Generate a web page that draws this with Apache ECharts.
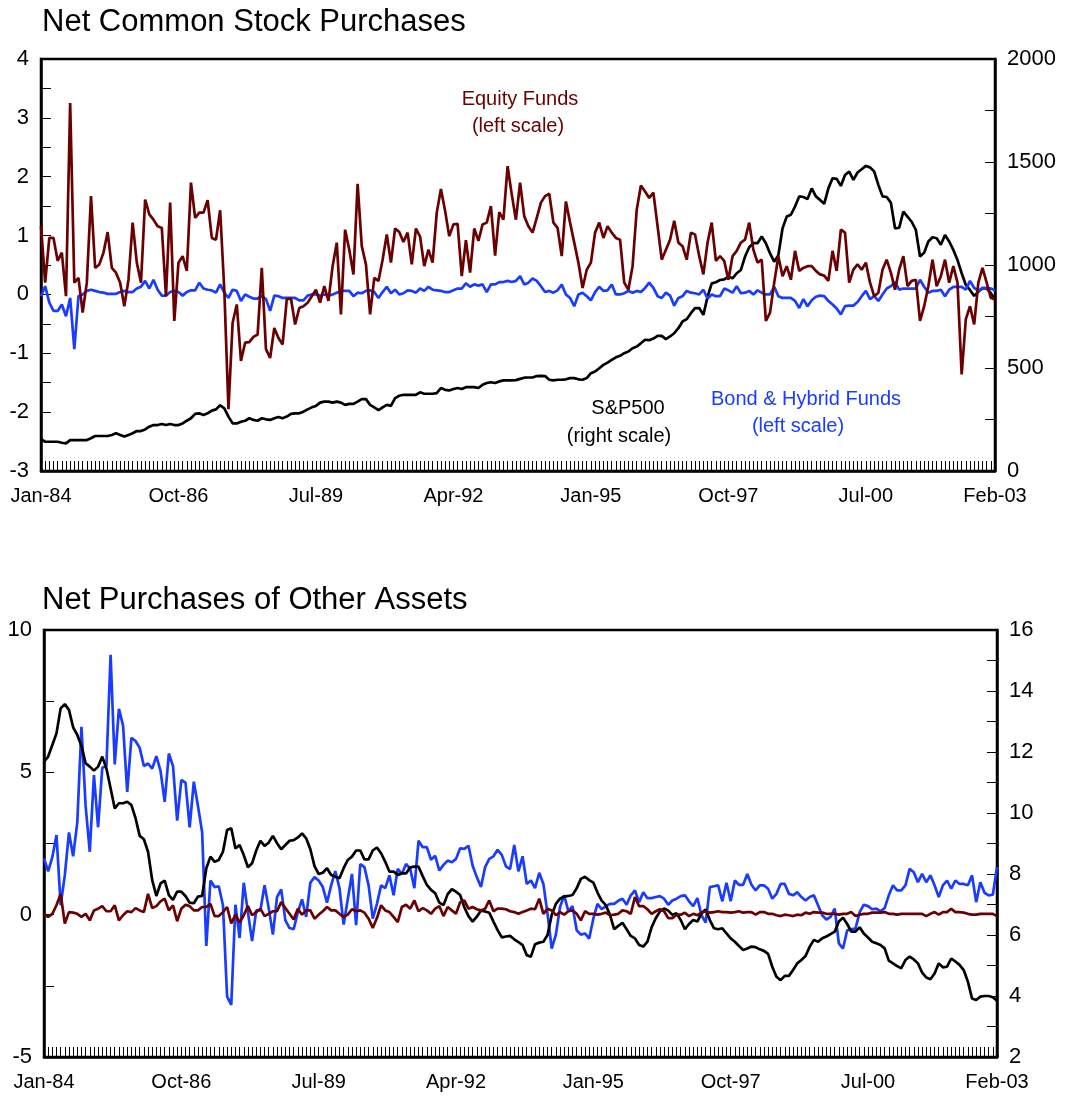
<!DOCTYPE html>
<html>
<head>
<meta charset="utf-8">
<title>Net Purchases</title>
<script src="https://cdn.jsdelivr.net/npm/echarts@6/dist/echarts.min.js"></script>
<style>
  html, body { margin: 0; padding: 0; background: #fff; }
  #chart { width: 1078px; height: 1099px; }
</style>
</head>
<body>
<div id="chart"></div>
<script>
// monthly, Jan-84 .. Feb-03
const startYear = 1984;
const monthCount = 230;
const monthNames = ['Jan', 'Feb', 'Mar', 'Apr', 'May', 'Jun', 'Jul', 'Aug', 'Sep', 'Oct', 'Nov', 'Dec'];

// top panel, left scale
const equityFunds = [
  1.16, 0.20, 0.96, 0.96, 0.57, 0.71, -0.03, 3.25, 0.20, 0.28,
  -0.31, 0.20, 1.67, 0.45, 0.51, 0.71, 1.06, 0.45, 0.37, 0.20,
  -0.20, 0.25, 1.22, 0.54, 0.20, 1.61, 1.36, 1.27, 1.16, 1.13,
  -0.03, 1.56, -0.45, 0.54, 0.65, 0.40, 1.90, 1.30, 1.39, 1.39,
  1.60, 0.96, 0.93, 1.43, 0.08, -1.95, -0.48, -0.17, -1.13, -0.82,
  -0.81, -0.72, -0.68, 0.45, -0.93, -1.08, -0.57, -0.74, -0.85, -0.08,
  -0.07, -0.51, -0.23, -0.20, -0.14, -0.03, 0.08, -0.14, 0.14, -0.11,
  0.48, 0.88, -0.34, 1.10, 0.76, 0.34, 1.88, 0.82, 0.51, -0.34,
  0.28, 0.23, 0.59, 1.02, 0.54, 1.12, 1.06, 0.89, 1.05, 0.51,
  1.12, 0.98, 0.48, 0.76, 0.54, 1.39, 1.79, 1.42, 0.99, 1.19,
  1.20, 0.31, 0.92, 0.37, 1.12, 0.91, 1.19, 1.22, 1.50, 0.66,
  1.40, 1.27, 2.18, 1.70, 1.27, 1.90, 1.33, 1.16, 1.05, 1.30,
  1.56, 1.67, 1.71, 1.22, 1.13, 0.65, 1.58, 1.22, 0.88, 0.54,
  0.11, 0.42, 0.54, 1.05, 1.22, 0.96, 1.16, 1.05, 0.96, 0.93,
  0.20, 0.08, 0.48, 1.44, 1.85, 1.75, 1.64, 1.73, 1.16, 0.59,
  0.76, 0.93, 1.25, 0.88, 0.82, 0.59, 1.05, 1.02, 0.65, 0.34,
  0.88, 1.22, 0.57, 0.65, 0.57, 0.25, 0.65, 0.74, 0.88, 0.93,
  1.22, 0.76, 0.54, 0.59, -0.45, -0.31, 0.20, 0.65, 0.31, 0.48,
  0.25, 0.74, 0.40, 0.45, 0.48, 0.48, 0.40, 0.34, 0.32, 0.23,
  0.74, 0.40, 1.10, 1.05, 0.20, 0.42, 0.51, 0.42, 0.54, 0.20,
  -0.03, 0.03, 0.42, 0.59, 0.37, 0.08, 0.42, 0.65, 0.14, 0.23,
  0.25, -0.45, -0.20, 0.14, 0.59, 0.14, 0.31, 0.59, 0.20, 0.48,
  0.20, -1.36, -0.42, -0.20, -0.51, 0.20, 0.45, 0.20, -0.06, -0.08
];

const bondHybridFunds = [
  -0.03, 0.14, -0.14, -0.28, -0.28, -0.17, -0.37, -0.06, -0.93, -0.03,
  0, 0.06, 0.08, 0.06, 0.04, 0.03, 0.01, 0.01, 0.01, 0.04,
  0.06, 0.04, 0.04, 0.10, 0.13, 0.23, 0.10, 0.25, 0.08, -0.02,
  -0.02, 0.04, 0.06, 0.04, -0.02, 0.04, 0.07, 0.07, 0.20, 0.10,
  0.08, 0.07, 0.03, 0.17, 0.03, -0.06, 0.08, 0.06, -0.11, 0,
  -0.04, -0.07, -0.07, -0.03, -0.08, -0.28, -0.02, -0.03, -0.06, -0.06,
  -0.06, -0.06, -0.10, -0.10, -0.02, 0, 0, -0.02, 0, -0.02,
  0, 0.03, 0.06, 0.06, 0.06, -0.03, 0.03, 0.02, 0.06, 0.07,
  0.04, -0.06, 0.04, 0.13, 0.02, 0.08, 0, 0.02, 0.07, 0.06,
  0.03, 0.10, 0.06, 0.13, 0.08, 0.07, 0.06, 0.04, 0.04, 0.07,
  0.10, 0.10, 0.19, 0.13, 0.17, 0.15, 0.17, 0.04, 0.17, 0.17,
  0.21, 0.21, 0.23, 0.21, 0.23, 0.31, 0.17, 0.20, 0.27, 0.23,
  0.14, 0.04, 0.06, 0.03, 0.07, 0.17, 0, -0.06, -0.20, 0,
  0.03, -0.03, -0.10, 0.04, 0.13, 0.06, 0.07, 0.17, 0, 0,
  0.02, 0.06, 0.03, 0.06, 0.04, 0.11, 0.20, 0.11, -0.03, -0.06,
  0.03, -0.02, -0.19, -0.06, -0.03, 0.06, 0.03, 0.02, 0, 0.08,
  -0.07, 0, -0.03, -0.03, 0.10, 0.07, 0.03, 0.14, 0.02, 0.03,
  0.06, 0, 0.07, 0.03, 0, 0, 0.13, -0.03, -0.06, -0.06,
  -0.06, -0.11, -0.23, -0.08, -0.20, -0.10, -0.04, -0.02, -0.03, -0.11,
  -0.17, -0.24, -0.34, -0.20, -0.19, -0.19, -0.13, -0.03, 0.06, -0.08,
  -0.03, -0.11, 0, 0.10, 0.14, 0.21, 0.08, 0.10, 0.10, 0.10,
  0.10, 0.25, 0.13, 0.03, 0.06, 0.06, 0.08, -0.03, 0.08, 0.13,
  0.13, 0.13, 0.08, 0.23, 0.11, 0.06, 0.11, 0.11, 0.10, 0.07
];

// top panel, right scale
const sp500 = [
  154, 142, 142, 142, 142, 137, 134, 150, 150, 150,
  150, 150, 159, 170, 170, 170, 170, 175, 183, 175,
  167, 175, 183, 194, 194, 202, 215, 223, 223, 228,
  223, 228, 223, 223, 231, 244, 256, 277, 280, 272,
  280, 293, 299, 319, 304, 264, 231, 231, 239, 244,
  256, 248, 244, 256, 251, 248, 256, 262, 256, 264,
  277, 280, 280, 288, 299, 309, 316, 332, 337, 337,
  332, 337, 332, 321, 326, 326, 337, 349, 349, 321,
  309, 296, 309, 321, 316, 354, 365, 370, 370, 370,
  370, 382, 375, 375, 375, 378, 403, 394, 391, 398,
  403, 398, 407, 407, 407, 403, 419, 427, 431, 427,
  435, 440, 440, 440, 441, 447, 453, 454, 454, 461,
  462, 461, 443, 440, 443, 443, 445, 451, 451, 445,
  443, 451, 475, 483, 499, 515, 526, 539, 552, 559,
  572, 580, 596, 604, 620, 637, 635, 643, 656, 656,
  640, 653, 669, 693, 726, 737, 766, 791, 791, 758,
  846, 911, 916, 927, 930, 944, 935, 960, 976, 1041,
  1086, 1106, 1106, 1138, 1106, 1056, 1016, 1048, 1178, 1235,
  1244, 1284, 1333, 1330, 1320, 1372, 1333, 1316, 1297, 1372,
  1421, 1418, 1384, 1437, 1454, 1413, 1449, 1465, 1481, 1474,
  1454, 1389, 1333, 1330, 1303, 1178, 1181, 1259, 1235, 1210,
  1170, 1041, 1060, 1114, 1135, 1130, 1098, 1146, 1114, 1073,
  1024, 960, 903, 879, 850, 871, 887, 887, 863, 830
];

// bottom panel, right scale (black)
const blackOther = [
  11.68, 11.85, 12.23, 12.61, 13.43, 13.57, 13.38, 12.81, 12.56, 12.20,
  11.63, 11.52, 11.39, 11.52, 11.85, 11.46, 10.81, 10.15, 10.32, 10.32,
  10.37, 10.26, 9.83, 9.25, 9.14, 8.73, 7.80, 7.28, 7.69, 7.78,
  7.31, 7.15, 7.42, 7.42, 7.28, 7.06, 7.04, 7.26, 7.28, 8.19,
  8.57, 8.40, 8.46, 8.73, 9.44, 9.50, 8.84, 8.95, 8.62, 8.22,
  8.35, 8.77, 9.09, 8.92, 9.03, 9.25, 9.01, 8.81, 8.95, 9.09,
  9.11, 9.20, 9.33, 9.17, 8.81, 8.26, 8.00, 8.04, 8.19, 7.97,
  7.91, 7.86, 8.19, 8.46, 8.57, 8.77, 8.77, 8.48, 8.48, 8.77,
  8.87, 8.68, 8.40, 8.08, 8.08, 7.97, 8.02, 8.02, 8.22, 8.24,
  8.24, 7.93, 7.64, 7.48, 7.37, 7.06, 6.98, 7.34, 7.50, 7.42,
  7.31, 6.91, 6.62, 6.44, 6.60, 6.80, 6.77, 6.73, 6.44, 6.16,
  5.92, 5.95, 5.97, 5.86, 5.77, 5.67, 5.34, 5.29, 5.70, 5.75,
  5.78, 6.00, 6.66, 7.02, 7.19, 7.26, 7.28, 7.31, 7.53, 7.84,
  7.91, 7.80, 7.72, 7.39, 7.13, 6.98, 6.66, 6.19, 6.30, 6.40,
  6.19, 5.97, 5.89, 5.67, 5.62, 5.78, 6.25, 6.55, 6.77, 6.87,
  6.80, 6.66, 6.71, 6.49, 6.19, 6.36, 6.49, 6.44, 6.71, 6.84,
  6.49, 6.22, 6.19, 6.22, 6.05, 5.89, 5.78, 5.64, 5.51, 5.56,
  5.62, 5.60, 5.53, 5.48, 5.38, 4.96, 4.63, 4.52, 4.66, 4.66,
  4.85, 5.07, 5.18, 5.31, 5.62, 5.84, 5.78, 5.89, 5.95, 6.03,
  6.11, 6.44, 6.57, 6.36, 6.11, 6.11, 6.25, 6.05, 5.92, 5.78,
  5.73, 5.67, 5.56, 5.16, 5.07, 4.98, 4.91, 5.18, 5.29, 5.20,
  5.07, 4.77, 4.61, 4.55, 4.74, 5.07, 4.94, 4.96, 5.23, 5.13,
  5.02, 4.85, 4.47, 3.92, 3.87, 3.98, 4.00, 4.00, 3.96, 3.85
];

// bottom panel, left scale (blue)
const blueOther = [
  1.98, 1.52, 2.02, 2.80, 0.33, 1.38, 2.89, 2.05, 3.24, 6.60,
  3.82, 2.21, 4.90, 3.07, 5.16, 5.22, 9.13, 5.28, 7.23, 6.64,
  4.31, 6.21, 6.10, 5.86, 5.22, 5.31, 5.13, 5.57, 5.05, 3.96,
  5.66, 5.22, 3.30, 4.73, 4.64, 3.07, 4.67, 3.82, 2.89, -1.10,
  1.20, 0.97, 1.00, 0.33, -2.88, -3.17, 0.35, -0.82, 1.12, 0.09,
  -0.93, 0.15, 0.15, 1.03, 0.23, -0.70, 0.62, 0.89, -0.20, -0.47,
  -0.51, 0.09, 0.54, -0.08, 1.12, 1.32, 1.20, 0.97, 0.42, 1.03,
  1.53, 0.93, -0.35, 0.54, 1.43, -0.37, 1.78, 1.67, 1.03, -0.14,
  0.38, 1.03, 0.93, 1.38, 0.68, 1.61, 1.43, 1.78, 1.61, 0.93,
  2.60, 2.37, 2.37, 1.93, 2.07, 1.55, 1.75, 1.90, 1.84, 1.96,
  2.33, 2.31, 2.42, 1.72, 1.32, 0.97, 1.67, 1.96, 2.05, 2.28,
  2.10, 1.70, 1.60, 2.45, 1.52, 2.05, 1.08, 1.20, 0.93, 1.47,
  1.08, 0.03, -1.19, -0.70, 0.27, 0.68, 0.12, 0.30, -0.55, -0.70,
  -0.66, -0.84, -0.14, 0.38, 0.19, 0.30, 0.38, 0.38, 0.49, 0.56,
  0.35, 0.68, 0.85, 0.44, 0.79, 0.58, 0.58, 0.62, 0.65, 0.56,
  0.35, 0.50, 0.56, 0.65, 0.68, 0.47, 0.30, 0.58, -0.02, -0.28,
  0.97, 1.00, 1.03, 0.47, 1.12, 0.47, 1.20, 1.05, 1.05, 1.43,
  1.05, 0.85, 1.03, 1.03, 0.91, 0.56, 0.73, 1.08, 1.08, 0.73,
  0.68, 0.79, 0.62, 0.50, 0.62, 0.68, 0.33, -0.02, -0.17, -0.08,
  0.21, -1.01, -1.19, -0.55, -0.51, -0.49, 0.09, 0.35, 0.30, 0.19,
  0.21, 0.12, 0.23, 0.68, 1.03, 0.85, 0.85, 1.03, 1.61, 1.49,
  1.14, 1.43, 1.14, 1.38, 1.03, 0.62, 1.03, 1.20, 0.91, 1.20,
  1.08, 1.08, 1.03, 1.38, 0.44, 1.14, 0.77, 0.68, 0.70, 1.67
];

// bottom panel, left scale (dark red)
const redOther = [
  0.03, -0.08, 0.03, 0.33, 0.73, -0.31, 0.09, 0.07, 0.03, -0.08,
  0.03, -0.20, 0.15, 0.21, 0.30, 0.12, 0.12, 0.33, -0.20, -0.02,
  0.12, 0.09, 0.23, 0.15, 0.09, 0.73, 0.23, 0.30, 0.47, 0.56,
  0.15, 0.33, -0.23, 0.21, 0.35, 0.30, 0.15, 0.15, 0.27, 0.27,
  0.38, -0.05, -0.05, 0.09, 0.27, -0.31, 0, -0.28, -0.02, 0.30,
  -0.02, 0.09, 0.21, -0.05, 0.03, 0.12, 0.12, 0.44, 0.23, 0.03,
  -0.17, 0.21, 0, 0.15, 0.15, -0.14, 0, 0.12, 0.27, 0.15,
  0.15, 0.03, -0.08, 0, 0.19, 0.12, 0.15, 0.07, -0.14, -0.47,
  -0.12, 0.33, 0.15, 0.09, -0.08, -0.26, 0.27, 0.35, 0.21, 0.50,
  0.12, 0.23, 0.15, 0.03, 0.21, 0.30, -0.05, 0.27, 0.15, 0.03,
  0.44, 0.50, 0.21, 0.27, 0.19, 0.15, 0.21, 0.50, 0.12, 0.21,
  0.21, 0.19, 0.12, 0.09, 0.03, 0.09, 0.15, 0.21, 0.19, 0.56,
  0.03, 0.21, 0.15, -0.02, 0.09, 0, 0.12, 0.15, 0.03, -0.20,
  0.12, 0.03, 0.03, 0, 0.03, 0.07, -0.02, 0, 0.03, 0.15,
  0.12, 0.03, 0.62, 0.30, 0.30, 0.19, 0.03, 0.12, 0.19, 0.12,
  -0.12, -0.12, 0, 0, 0.07, -0.05, 0.03, -0.02, 0.07, 0.12,
  0.07, 0.09, 0.12, 0.09, 0.09, 0.07, 0.09, 0.12, 0.07, 0.09,
  0.09, 0, 0.09, 0.09, 0.03, 0.03, -0.02, -0.05, 0, -0.02,
  -0.05, 0, -0.02, 0.07, 0.03, 0.09, 0.07, 0.07, 0.03, 0.03,
  0.03, 0, 0.03, 0.03, 0.09, -0.05, 0, 0.03, 0.03, 0.07,
  0.07, 0.07, 0.09, 0.03, 0.03, 0, 0.03, 0.03, 0.03, 0.03,
  0.03, 0.03, -0.05, 0.03, 0.09, 0, 0.09, 0.09, 0.21, 0.09,
  0.09, 0.07, 0.03, 0, 0, 0.03, 0.03, 0.03, 0.03, -0.05
];

const months = [];
for (let i = 0; i < monthCount; i++) {
  let yy = (startYear + Math.floor(i / 12)) % 100;
  months.push(monthNames[i % 12] + '-' + String(yy).padStart(2, '0'));
}

const FONT = "'Liberation Sans', Arial, sans-serif";
const DARK_RED = '#6a0000';
const BLUE = '#1a3cff';

// label every 33 months plus the last month
const showLabel = idx => idx % 33 === 0 || idx === monthCount - 1;

function xAxisFor(gridIndex) {
  return {
    type: 'category',
    gridIndex: gridIndex,
    data: months,
    boundaryGap: false,
    axisLine: { onZero: false, lineStyle: { color: '#000', width: 2.5 } },
    axisTick: { show: true, inside: true, length: 10, interval: 0, lineStyle: { color: '#000', width: 1 } },
    axisLabel: { interval: (idx) => showLabel(idx), color: '#000', fontSize: 20, fontFamily: FONT, margin: 15 },
    splitLine: { show: false }
  };
}

function yAxisFor(gridIndex, pos, min, max, step, labelEvery) {
  return {
    type: 'value',
    gridIndex: gridIndex,
    position: pos,
    min: min,
    max: max,
    interval: step,
    axisLine: { show: true, onZero: false, lineStyle: { color: '#000', width: 2.5 } },
    axisTick: { show: true, inside: true, length: 10, lineStyle: { color: '#000', width: 1 } },
    axisLabel: {
      color: '#000', fontSize: 22, fontFamily: FONT, margin: 12,
      formatter: v => (Math.abs(v / labelEvery - Math.round(v / labelEvery)) < 1e-6 ? String(v) : '')
    },
    splitLine: { show: false }
  };
}

function lineSeries(name, data, color, xi, yi) {
  return {
    name: name,
    type: 'line',
    xAxisIndex: xi,
    yAxisIndex: yi,
    data: data,
    symbol: 'none',
    lineStyle: { color: color, width: 2.7 },
    itemStyle: { color: color }
  };
}

function note(text, x, y, color) {
  return {
    type: 'text',
    x: x,
    y: y,
    style: {
      text: text, fill: color, font: '20px ' + FONT,
      align: 'center', verticalAlign: 'middle',
      textAlign: 'center', textVerticalAlign: 'middle'
    }
  };
}

const chart = echarts.init(document.getElementById('chart'));
chart.setOption({
  animation: false,
  backgroundColor: '#fff',
  title: [
    { text: 'Net Common Stock Purchases', left: 37, top: 2,
      textStyle: { fontSize: 31, fontWeight: 'normal', color: '#000', fontFamily: FONT } },
    { text: 'Net Purchases of Other Assets', left: 37, top: 580,
      textStyle: { fontSize: 31, fontWeight: 'normal', color: '#000', fontFamily: FONT } }
  ],
  grid: [
    { left: 41, top: 59, width: 954, height: 412, show: true, borderColor: '#000', borderWidth: 2.5, backgroundColor: 'transparent' },
    { left: 44, top: 630, width: 953, height: 427, show: true, borderColor: '#000', borderWidth: 2.5, backgroundColor: 'transparent' }
  ],
  xAxis: [xAxisFor(0), xAxisFor(1)],
  yAxis: [
    yAxisFor(0, 'left', -3, 4, 0.5, 1),
    yAxisFor(0, 'right', 0, 2000, 250, 500),
    yAxisFor(1, 'left', -5, 10, 2.5, 5),
    yAxisFor(1, 'right', 2, 16, 1, 2)
  ],
  series: [
    lineSeries('S&P500', sp500, '#000', 0, 1),
    lineSeries('Bond & Hybrid Funds', bondHybridFunds, BLUE, 0, 0),
    lineSeries('Equity Funds', equityFunds, DARK_RED, 0, 0),
    lineSeries('Blue', blueOther, BLUE, 1, 2),
    lineSeries('Black', blackOther, '#000', 1, 3),
    lineSeries('Red', redOther, DARK_RED, 1, 2)
  ],
  graphic: [
    note('Equity Funds', 520, 99, DARK_RED),
    note('(left scale)', 518, 126, DARK_RED),
    note('S&P500', 628, 408, '#000'),
    note('(right scale)', 619, 436, '#000'),
    note('Bond & Hybrid Funds', 806, 399, BLUE),
    note('(left scale)', 798, 426, BLUE)
  ]
});
</script>
</body>
</html>
